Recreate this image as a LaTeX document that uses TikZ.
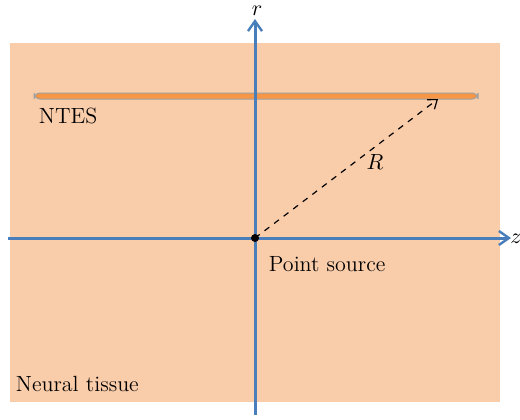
\documentclass[tikz,border=0pt]{standalone}
\usetikzlibrary{arrows.meta}
\definecolor{tissue}{RGB}{249,204,170}
\definecolor{axisblue}{RGB}{74,126,187}
\definecolor{barorange}{RGB}{247,150,70}
\tikzset{
  axisline/.style={color=axisblue, line width=1.5pt, -{Straight Barb[length=5pt,width=7pt,line width=1.2pt]}},
  lbl/.style={anchor=north west, inner sep=0.75pt, font=\fontsize{11}{13}\selectfont},
  vlbl/.style={inner sep=0.5pt, font=\fontsize{11}{13}\selectfont},
}
\begin{document}
\begin{tikzpicture}[x=0.5pt,y=0.5pt,yscale=-1,xscale=1]
\useasboundingbox (0,0) rectangle (520,419);

%Shape: Rectangle [id:tissue]
\fill [tissue] (10,43) rectangle (500,402) ;

%Shape: Rounded bar [id:ntes]
\draw [draw={rgb, 255:red, 160; green, 160; blue, 160 }, fill=barorange, line width=0.5pt, rounded corners=3] (34,93) rectangle (478,99) ;

%Coordinates
\coordinate (o) at (255,238);
\coordinate (rbot) at (255,415);
\coordinate (rtop) at (255,19);
\coordinate (zleft) at (8,238);
\coordinate (zright) at (511,238);
\coordinate (tip) at (438,99);

%Straight Lines [id:raxis]
\draw [axisline] (rbot) -- (rtop) ;
%Straight Lines [id:zaxis]
\draw [axisline] (zleft) -- (zright) ;
%Dashed Arrow [id:radius]
\draw [dashed, line width=0.6pt, -{Straight Barb[length=4pt,width=6pt]}] (o) -- (tip) ;
%Shape: Circle [id:source]
\fill (o) circle [radius=4] ;

% Text Node
\node (rlab) [vlbl] at (257,11) {$r$};
% Text Node
\node (zlab) [vlbl] at (516,239) {$z$};
% Text Node
\node (rad) [vlbl] at (375,162) {$R$};
% Text Node
\node (ntes) [lbl] at (37,106) {NTES};
% Text Node
\node (point) [lbl] at (267,255) {Point source};
% Text Node
\node (neural) [lbl] at (14,374) {Neural tissue};

\end{tikzpicture}
\end{document}
